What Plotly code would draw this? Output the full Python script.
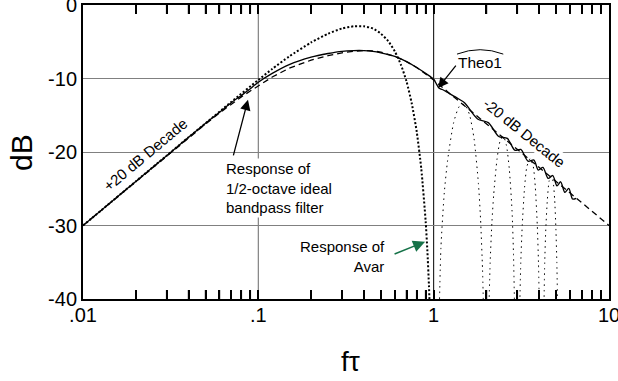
import math
import plotly.graph_objects as go

# ---------------- data ----------------
x_bandpass = [0.01, 0.015, 0.02, 0.03, 0.04, 0.05, 0.06, 0.07, 0.08, 0.09, 0.1, 0.12, 0.15, 0.2, 0.25,
              0.3, 0.35, 0.4, 0.45, 0.5, 0.6, 0.7, 0.8, 0.9, 1.0, 1.2, 1.5, 2, 3, 4, 5, 7, 10]
db_bandpass = [-30.0, -26.5, -24.0, -20.5, -18.1, -16.2, -14.7, -13.5, -12.5, -11.7, -11.0, -9.8, -8.6, -7.5, -6.9,
               -6.5, -6.3, -6.2, -6.25, -6.4, -7.0, -7.7, -8.5, -9.4, -10.2, -11.8, -13.7, -16.2, -19.7, -22.1, -24.0, -26.9, -30.0]

x_theo1 = [0.01, 0.015, 0.02, 0.03, 0.04, 0.05, 0.06, 0.07, 0.08, 0.09, 0.1, 0.12, 0.15, 0.2, 0.25,
           0.3, 0.35, 0.4, 0.45, 0.5, 0.6, 0.7, 0.8, 0.9, 1.0, 1.04, 1.07, 1.12, 1.2, 1.35, 1.5, 1.78,
           2.05, 2.35, 2.63, 2.9, 3.14, 3.45, 3.73, 3.95, 4.2, 4.5, 4.78, 5.05, 5.3, 5.6, 5.9, 6.2, 6.5]
db_theo1 = [-30.0, -26.5, -24.0, -20.5, -18.0, -16.1, -14.6, -13.3, -12.3, -11.4, -10.5, -9.3, -8.1, -7.1, -6.6,
            -6.3, -6.2, -6.2, -6.3, -6.5, -7.0, -7.7, -8.5, -9.3, -10.1, -10.8, -11.3, -11.5, -11.9, -12.6, -13.3, -15.5,
            -16.0, -17.9, -18.15, -19.75, -19.65, -21.25, -21.1, -22.45, -22.1, -23.6, -23.2, -24.6, -24.05, -25.5, -24.95, -26.4, -26.3]

x_avar = [0.01, 0.015, 0.02, 0.03, 0.04, 0.05, 0.07, 0.1, 0.12, 0.15, 0.2, 0.25, 0.3, 0.35, 0.4, 0.45,
          0.5, 0.55, 0.6, 0.65, 0.7, 0.75, 0.8, 0.85, 0.9, 0.92, 0.94, 0.95]
db_avar = [-30.0, -26.5, -24.0, -20.5, -18.0, -16.1, -13.2, -10.2, -8.7, -7.0, -5.1, -3.9, -3.2, -2.9, -2.9, -3.2,
           -3.9, -4.9, -6.3, -8.1, -10.4, -13.4, -17.2, -22.3, -29.4, -33.3, -38.2, -41.5]

x_lobe1 = [1.08, 1.1, 1.15, 1.2, 1.3, 1.4, 1.5, 1.6, 1.7, 1.8, 1.85, 1.9, 1.92]
db_lobe1 = [-40.0, -33.0, -25.5, -21.2, -16.0, -13.8, -13.5, -14.9, -18.2, -24.3, -29.0, -36.0, -40.5]
x_lobe2 = [2.07, 2.1, 2.15, 2.2, 2.3, 2.4, 2.5, 2.6, 2.7, 2.8, 2.85, 2.89]
db_lobe2 = [-40.5, -35.0, -29.5, -25.8, -20.9, -18.4, -17.9, -19.1, -22.3, -28.1, -33.5, -40.5]
x_lobe3 = [3.1, 3.14, 3.2, 3.3, 3.4, 3.55, 3.7, 3.8, 3.9, 3.96, 4.0]
db_lobe3 = [-40.5, -35.0, -30.0, -24.8, -22.0, -20.9, -22.0, -24.8, -30.0, -35.0, -40.5]
x_lobe4 = [4.26, 4.3, 4.36, 4.45, 4.55, 4.67, 4.8, 4.9, 4.98, 5.04, 5.09]
db_lobe4 = [-40.5, -35.0, -30.5, -26.5, -24.0, -23.2, -24.0, -26.5, -30.5, -35.0, -40.5]

x_major = [0.01, 0.1, 1, 10]
x_major_text = [".01", ".1", "1", "10"]
y_tickvals = [0, -10, -20, -30, -40]
y_ticktext = ["0", "-10", "-20", "-30", "-40"]

FONT = "Liberation Sans, Arial, Helvetica, sans-serif"
X_LOG_MIN, X_LOG_MAX = -2, 1
Y_MIN, Y_MAX = -40, 0
PLOT_H = 381 - 5 - 82
TICK_DB = 9 * (Y_MAX - Y_MIN) / PLOT_H   # tick length (px) expressed in dB

fig = go.Figure()

fig.add_trace(go.Scatter(x=x_bandpass, y=db_bandpass, mode="lines",
                         line=dict(color="black", width=1.3, dash="6px,4px"), hoverinfo="skip"))
fig.add_trace(go.Scatter(x=x_theo1, y=db_theo1, mode="lines",
                         line=dict(color="black", width=1.3, shape="spline", smoothing=0.8), hoverinfo="skip"))
fig.add_trace(go.Scatter(x=x_avar, y=db_avar, mode="lines",
                         line=dict(color="black", width=2, dash="2px,2px", shape="spline", smoothing=0.6),
                         hoverinfo="skip"))
for xs, ys in [(x_lobe1, db_lobe1), (x_lobe2, db_lobe2), (x_lobe3, db_lobe3), (x_lobe4, db_lobe4)]:
    fig.add_trace(go.Scatter(x=xs, y=ys, mode="lines",
                             line=dict(color="black", width=1, dash="1.5px,4px", shape="spline", smoothing=0.6),
                             hoverinfo="skip"))

# tick positions: labelled decades plus unlabelled 2..9 in each decade
tick_vals, tick_text = [], []
for v, t in zip(x_major, x_major_text):
    tick_vals.append(v)
    tick_text.append(t)
    if v < 10:
        for m in range(2, 10):
            tick_vals.append(v * m)
            tick_text.append("")

# minor ticks as a line trace too (bottom and top edges)
tx, ty = [], []
for dec in x_major[:-1]:
    for m in range(2, 10):
        v = dec * m
        tx += [v, v, None, v, v, None]
        ty += [Y_MIN, Y_MIN + TICK_DB, None, Y_MAX, Y_MAX - TICK_DB, None]
fig.add_trace(go.Scatter(x=tx, y=ty, mode="lines", line=dict(color="black", width=1.5),
                         hoverinfo="skip", connectgaps=False))

fig.update_layout(
    width=618, height=381,
    margin=dict(l=83, r=9, t=5, b=82),
    paper_bgcolor="white", plot_bgcolor="white",
    showlegend=False,
    font=dict(family=FONT, color="black"),
    xaxis=dict(type="log", range=[X_LOG_MIN, X_LOG_MAX], tickmode="array", tickvals=tick_vals, ticktext=tick_text,
               ticks="inside", ticklen=9, tickwidth=1.5, tickcolor="black",
               showgrid=False, zeroline=False, automargin=False, ticklabeloverflow="allow",
               ticklabelstandoff=-3, layer="above traces",
               showline=True, linecolor="black", linewidth=2, mirror="allticks",
               tickfont=dict(size=20, family=FONT, color="black")),
    yaxis=dict(range=[Y_MIN, Y_MAX], tickmode="array", tickvals=y_tickvals, ticktext=y_ticktext,
               ticks="", showgrid=True, gridcolor="#808080", gridwidth=1.2, zeroline=False, automargin=False,
               ticklabeloverflow="allow",
               showline=True, linecolor="black", linewidth=2, mirror=True,
               tickfont=dict(size=20, family=FONT, color="black")),
)


def xpaper(v):
    return (math.log10(v) - X_LOG_MIN) / (X_LOG_MAX - X_LOG_MIN)


# vertical grid lines at .1 (grey) and 1 (black)
fig.add_shape(type="line", xref="paper", yref="paper", x0=xpaper(0.1), x1=xpaper(0.1), y0=0, y1=1,
              line=dict(color="#808080", width=1.2), layer="below")
fig.add_shape(type="line", xref="paper", yref="paper", x0=xpaper(1), x1=xpaper(1), y0=0, y1=1,
              line=dict(color="black", width=1), layer="below")

# hat over Theo1
fig.add_shape(type="path", xref="paper", yref="paper",
              path="M 0.711,0.833 Q 0.755,0.863 0.799,0.833", line=dict(color="black", width=1))

ann = []
# axis titles
ann.append(dict(text="fτ", xref="paper", yref="paper", x=0.508, y=-0.214, xanchor="center", yanchor="middle",
                showarrow=False, font=dict(size=28, family=FONT)))
ann.append(dict(text="dB", xref="paper", yref="paper", x=-0.118, y=0.5, xanchor="center", yanchor="middle",
                showarrow=False, textangle=-90, font=dict(size=30, family=FONT)))
# slope labels
ann.append(dict(text="+20 dB Decade", xref="paper", yref="paper", x=0.118, y=0.493, xanchor="center",
                yanchor="middle", showarrow=False, textangle=-40, font=dict(size=15, family=FONT)))
ann.append(dict(text="-20 dB Decade", xref="paper", yref="paper", x=0.838, y=0.565, xanchor="center",
                yanchor="middle", showarrow=False, textangle=39, bgcolor="white", borderpad=0,
                font=dict(size=15, family=FONT)))
# text labels
ann.append(dict(text="Response of<br>1/2-octave ideal<br>bandpass filter", xref="paper", yref="paper",
                x=0.268, y=0.379, xanchor="left", yanchor="middle", align="left", showarrow=False,
                bgcolor="white", borderpad=1, font=dict(size=15, family=FONT)))
ann.append(dict(text="Response of<br>Avar", xref="paper", yref="paper",
                x=0.578, y=0.143, xanchor="right", yanchor="middle", align="right", showarrow=False,
                font=dict(size=15, family=FONT)))
ann.append(dict(text="Theo1", xref="paper", yref="paper", x=0.755, y=0.803, xanchor="center", yanchor="middle",
                showarrow=False, font=dict(size=15.5, family=FONT)))
# arrows
ann.append(dict(text="", x=-1.059, y=-12.9, xref="x", yref="y", ax=-15, ay=57, showarrow=True,
                arrowhead=2, arrowsize=1.6, arrowwidth=1.3, arrowcolor="black", standoff=0))
ann.append(dict(text="", x=0.025, y=-11.3, xref="x", yref="y", ax=19, ay=-24, showarrow=True,
                arrowhead=2, arrowsize=1.6, arrowwidth=1.3, arrowcolor="black", standoff=0))
ann.append(dict(text="", x=-0.049, y=-32.2, xref="x", yref="y", ax=-32, ay=13, showarrow=True,
                arrowhead=2, arrowsize=1.6, arrowwidth=1.5, arrowcolor="#157248", standoff=0))
fig.update_layout(annotations=ann)

fig.write_html("out.html", config={"displayModeBar": False},
               post_script="document.body.style.margin='0';document.body.style.padding='0';")
